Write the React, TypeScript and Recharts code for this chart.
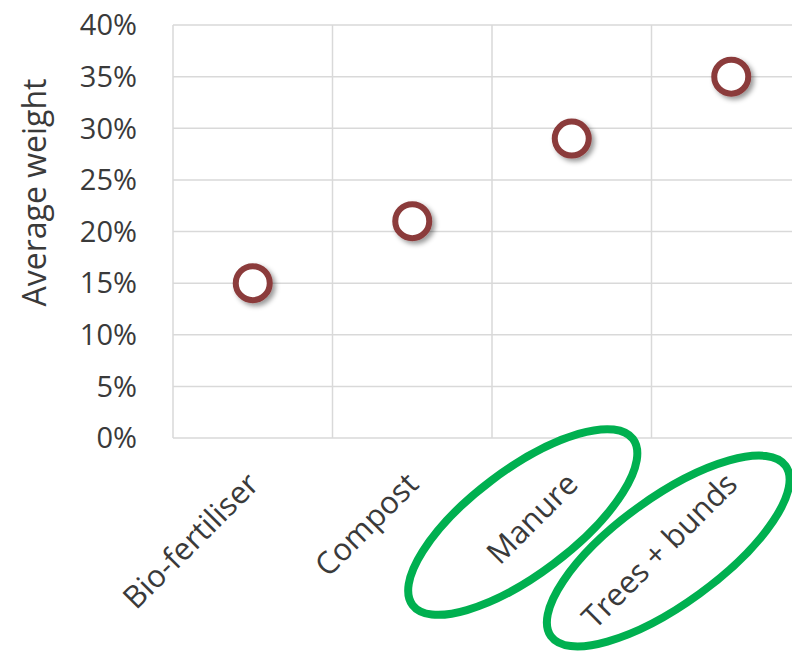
import React from 'react';
import { ComposedChart, Scatter, XAxis, YAxis, CartesianGrid } from 'recharts';

const categories = ['Bio-fertiliser', 'Compost', 'Manure', 'Trees + bunds'];
const averageWeight = [0.15, 0.21, 0.29, 0.35];
const yTicks = [0, 0.05, 0.1, 0.15, 0.2, 0.25, 0.3, 0.35, 0.4];
const circledCategories = ['Manure', 'Trees + bunds'];

const data = categories.map((name, i) => ({ name, value: averageWeight[i] }));

const FONT = '"Open Sans", "Liberation Sans", sans-serif';
const TEXT = '#3a3a3a';
const GRID = '#d9d9d9';

// hand-drawn green rings around the highlighted labels, relative to the tick point
const rings: Record<string, { dx: number; dy: number; rx: number; ry: number; angle: number }> = {
  Manure: { dx: -49, dy: 84, rx: 138, ry: 52, angle: -37 },
  'Trees + bunds': { dx: -63, dy: 113, rx: 145, ry: 53, angle: -36 }
};

const CategoryTick = (props: any) => {
  const { x, y, payload } = props;
  const name = payload.value as string;
  const ring = circledCategories.includes(name) ? rings[name] : null;
  return (
    <g>
      <text
        transform={`translate(${x + 8}, ${y + 48}) rotate(-45)`}
        textAnchor="end"
        fontFamily={FONT}
        fontSize={31}
        fill={TEXT}
      >
        {name}
      </text>
      {ring && (
        <ellipse
          cx={x + ring.dx}
          cy={y + ring.dy}
          rx={ring.rx}
          ry={ring.ry}
          transform={`rotate(${ring.angle}, ${x + ring.dx}, ${y + ring.dy})`}
          fill="none"
          stroke="#00b050"
          strokeWidth={8}
        />
      )}
    </g>
  );
};

const YLabel = (props: any) => {
  const { viewBox } = props;
  const cx = viewBox.x + 33;
  const cy = viewBox.y + viewBox.height / 2 - 39;
  return (
    <text
      x={cx}
      y={cy}
      transform={`rotate(-90, ${cx}, ${cy})`}
      textAnchor="middle"
      dominantBaseline="central"
      fontFamily={FONT}
      fontSize={32}
      fill={TEXT}
    >
      Average weight
    </text>
  );
};

const RingDot = (props: any) => {
  const { cx, cy, index } = props;
  const id = `shadow-${index}`;
  return (
    <g>
      <defs>
        <filter id={id} x="-50%" y="-50%" width="200%" height="200%">
          <feDropShadow dx="3" dy="3" stdDeviation="2.5" floodColor="#000" floodOpacity="0.4" />
        </filter>
      </defs>
      <circle cx={cx} cy={cy} r={17} fill="#fff" stroke="#8b3a3a" strokeWidth={6} filter={`url(#${id})`} />
    </g>
  );
};

const App: React.FC = () => (
  <div style={{ position: 'fixed', left: 0, top: 0, width: 792, height: 652, overflow: 'hidden', background: '#fff' }}>
    <ComposedChart width={830} height={652} data={data} margin={{ top: 25, right: 19, bottom: 0, left: 0 }}>
      <CartesianGrid
        stroke={GRID}
        strokeWidth={1.5}
        verticalCoordinatesGenerator={({ offset }: any) =>
          [...categories, ''].map((_, i) => offset.left + (i * offset.width) / categories.length)
        }
      />
      <XAxis
        dataKey="name"
        type="category"
        scale="band"
        interval={0}
        axisLine={false}
        tickLine={false}
        tickSize={0}
        tickMargin={0}
        height={214}
        tick={<CategoryTick />}
      />
      <YAxis
        domain={[0, 0.4]}
        ticks={yTicks}
        width={173}
        axisLine={false}
        tickLine={false}
        tickSize={0}
        tickMargin={36}
        tickFormatter={(v: number) => `${Math.round(v * 100)}%`}
        tick={{ fontFamily: FONT, fontSize: 29, fill: TEXT }}
        label={<YLabel />}
      />
      <Scatter dataKey="value" isAnimationActive={false} shape={<RingDot />} />
    </ComposedChart>
  </div>
);

export default App;
